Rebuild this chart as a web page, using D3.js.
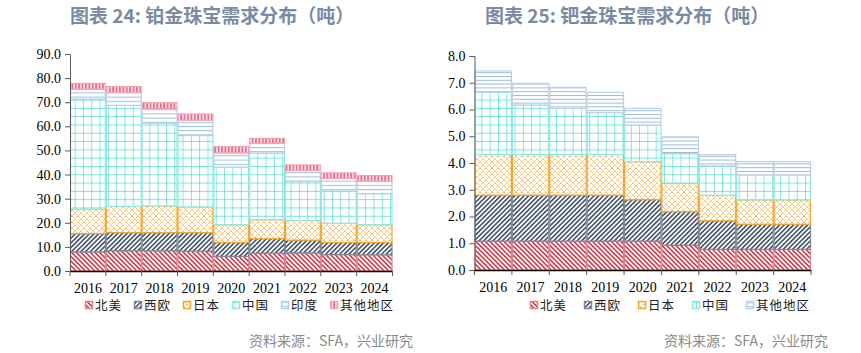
<!DOCTYPE html>
<html>
<head>
<meta charset="utf-8">
<script src="https://cdn.jsdelivr.net/npm/d3@7"></script>
<style>
  body { margin: 0; background: #fff; }
  .axisText { font-family: "Liberation Serif", "DejaVu Serif", serif; font-size: 14px; fill: #000; }
  .legendText { font-family: "Noto Sans CJK SC", sans-serif; font-size: 12.5px; fill: #222; letter-spacing: 1px; }
</style>
</head>
<body>
<svg id="chart" width="861" height="353"></svg>
<script>
// ---- data (tonnes) ----
const years = ['2016', '2017', '2018', '2019', '2020', '2021', '2022', '2023', '2024'];

// platinum jewellery demand
const ptRegions = ['北美', '西欧', '日本', '中国', '印度', '其他地区'];
const ptNorthAmerica = [7.9, 8.4, 8.4, 8.2, 6.1, 7.4, 7.5, 6.8, 6.7];
const ptWestEurope   = [7.6, 7.5, 7.5, 7.7, 5.7, 6.0, 5.3, 5.0, 5.1];
const ptJapan        = [10.2, 10.9, 11.1, 10.7, 7.4, 7.9, 8.2, 8.0, 7.4];
const ptChina        = [45.6, 41.9, 34.4, 29.6, 23.9, 27.6, 16.1, 13.9, 12.9];
const ptIndia        = [4.1, 5.4, 6.0, 6.4, 5.9, 4.1, 4.6, 4.7, 5.2];
const ptOther        = [2.4, 2.4, 2.4, 2.5, 2.6, 2.0, 2.3, 2.3, 2.3];
const ptTicks = [0, 10, 20, 30, 40, 50, 60, 70, 80, 90];

// palladium jewellery demand
const pdRegions = ['北美', '西欧', '日本', '中国', '其他地区'];
const pdNorthAmerica = [1.08, 1.08, 1.08, 1.08, 1.08, 0.92, 0.77, 0.77, 0.77];
const pdWestEurope   = [1.72, 1.72, 1.72, 1.72, 1.55, 1.26, 1.07, 0.94, 0.94];
const pdJapan        = [1.52, 1.52, 1.52, 1.52, 1.42, 1.07, 0.95, 0.91, 0.91];
const pdChina        = [2.33, 1.85, 1.72, 1.56, 1.37, 1.10, 1.10, 0.94, 0.94];
const pdOther        = [0.79, 0.81, 0.79, 0.76, 0.62, 0.63, 0.42, 0.49, 0.49];
const pdTicks = [0, 1, 2, 3, 4, 5, 6, 7, 8];

const svg = d3.select('#chart');
const defs = svg.append('defs');

// ---- hatch patterns ----
function stripePattern(id, color, angle, period, width) {
    const p = defs.append('pattern')
        .attr('id', id)
        .attr('patternUnits', 'userSpaceOnUse')
        .attr('width', period).attr('height', period)
        .attr('patternTransform', `rotate(${angle})`);
    p.append('rect').attr('width', period).attr('height', period).attr('fill', '#fff');
    p.append('rect').attr('width', width).attr('height', period).attr('fill', color);
}
stripePattern('pNA', '#d23b4c', -45, 3.3, 1.6);
stripePattern('pWE', '#44546a', 45, 3.3, 1.6);
stripePattern('pOther', '#f06a86', 0, 3.4, 2);
stripePattern('pIndia', '#9dbfe2', 90, 4.2, 1);
stripePattern('pOtherPd', '#9fbbdc', 90, 3.8, 1);

const jp = defs.append('pattern').attr('id', 'pJapan')
    .attr('patternUnits', 'userSpaceOnUse').attr('width', 6).attr('height', 6);
jp.append('rect').attr('width', 6).attr('height', 6).attr('fill', '#fff');
jp.append('path').attr('d', 'M0,0L6,6M6,0L0,6')
    .attr('stroke', '#f2a22a').attr('stroke-width', 0.9).attr('stroke-dasharray', '1.2,0.8');

const cn = defs.append('pattern').attr('id', 'pChina')
    .attr('patternUnits', 'userSpaceOnUse').attr('width', 8.3).attr('height', 8.3);
cn.append('rect').attr('width', 8.3).attr('height', 8.3).attr('fill', '#fff');
cn.append('path').attr('d', 'M0,0H8.3M0,0V8.3')
    .attr('stroke', '#45dccf').attr('stroke-width', 1.3);

const styles = {
    '北美':   {fill: 'url(#pNA)', stroke: '#e0808a'},
    '西欧':   {fill: 'url(#pWE)', stroke: '#7d8797'},
    '日本':   {fill: 'url(#pJapan)', stroke: '#f2a630'},
    '中国':   {fill: 'url(#pChina)', stroke: '#8fe9e0'},
    '印度':   {fill: 'url(#pIndia)', stroke: '#b5cfea'},
    '其他地区': {fill: 'url(#pOther)', stroke: '#f7a0b2'}
};
const pdStyles = Object.assign({}, styles, {'其他地区': {fill: 'url(#pOtherPd)', stroke: '#bcd0ea'}});

function drawChart(cfg) {
    const rows = years.map((yr, i) => {
        const r = {year: yr};
        cfg.keys.forEach((k, j) => r[k] = cfg.series[j][i]);
        return r;
    });

    const x = d3.scaleBand().domain(years).range([cfg.left, cfg.right]).padding(0);
    const y = d3.scaleLinear().domain([0, d3.max(cfg.ticks)]).range([cfg.bottom, cfg.top]);

    const stacked = d3.stack().keys(cfg.keys)(rows);

    const g = svg.append('g');

    // title
    g.append('text')
        .attr('x', cfg.titleX).attr('y', 23)
        .style('font-family', '"Noto Sans CJK SC", sans-serif')
        .style('font-size', '19px').style('font-weight', 'bold')
        .attr('fill', '#7b8aa3')
        .text(cfg.title);

    // stacked bars
    g.selectAll('.layer')
        .data(stacked)
        .join('g')
        .attr('class', 'layer')
        .each(function(layer) {
            const st = cfg.styles[layer.key];
            d3.select(this).selectAll('rect')
                .data(layer)
                .join('rect')
                .attr('x', d => x(d.data.year) + 0.5)
                .attr('width', x.bandwidth() - 1)
                .attr('y', d => y(d[1]))
                .attr('height', d => y(d[0]) - y(d[1]))
                .attr('fill', st.fill)
                .attr('stroke', st.stroke)
                .attr('stroke-width', 1.2);
        });

    // y axis
    const yAxis = g.append('g')
        .attr('transform', `translate(${cfg.left},0)`)
        .call(d3.axisLeft(y).tickValues(cfg.ticks).tickFormat(d3.format('.1f')).tickSize(5).tickPadding(4));
    yAxis.select('.domain').attr('stroke', '#595959');
    yAxis.selectAll('.tick line').attr('stroke', '#595959');
    yAxis.selectAll('text').attr('class', 'axisText');

    // x axis: labels at centres, ticks at category boundaries
    const xAxis = g.append('g')
        .attr('transform', `translate(0,${cfg.bottom})`)
        .call(d3.axisBottom(x).tickSize(0).tickPadding(12));
    xAxis.select('.domain').attr('stroke', '#000').attr('stroke-width', 1.3);
    xAxis.selectAll('text').attr('class', 'axisText');
    const bounds = years.map(d => x(d)).concat([x.range()[1]]);
    xAxis.selectAll('.bound')
        .data(bounds)
        .join('line')
        .attr('class', 'bound')
        .attr('x1', d => d).attr('x2', d => d)
        .attr('y1', 0).attr('y2', 5)
        .attr('stroke', '#595959');

    // legend
    const legend = g.append('g').attr('transform', `translate(${cfg.legendX},310)`);
    let lx = 0;
    cfg.keys.forEach(k => {
        const st = cfg.styles[k];
        legend.append('rect')
            .attr('x', lx + 0.5).attr('y', -8.5)
            .attr('width', 7).attr('height', 7)
            .attr('fill', st.fill).attr('stroke', st.stroke).attr('stroke-width', 1.5);
        const t = legend.append('text')
            .attr('class', 'legendText')
            .attr('x', lx + 10).attr('y', 0)
            .text(k);
        lx += 10 + t.node().getComputedTextLength() + cfg.legendGap;
    });

    // source
    g.append('text')
        .attr('x', cfg.sourceX).attr('y', 346)
        .attr('text-anchor', 'end')
        .style('font-family', '"Noto Sans CJK SC", sans-serif')
        .style('font-size', '14px')
        .attr('fill', '#8a8a8a')
        .text('资料来源：SFA，兴业研究');
}

drawChart({
    title: '图表 24: 铂金珠宝需求分布（吨）', titleX: 70,
    keys: ptRegions,
    series: [ptNorthAmerica, ptWestEurope, ptJapan, ptChina, ptIndia, ptOther],
    ticks: ptTicks, styles: styles,
    left: 70, right: 392.5, top: 54, bottom: 271,
    legendX: 85, legendGap: 12, sourceX: 413
});

drawChart({
    title: '图表 25: 钯金珠宝需求分布（吨）', titleX: 485,
    keys: pdRegions,
    series: [pdNorthAmerica, pdWestEurope, pdJapan, pdChina, pdOther],
    ticks: pdTicks, styles: pdStyles,
    left: 474.5, right: 811, top: 56, bottom: 270,
    legendX: 530, legendGap: 17, sourceX: 828
});
</script>
</body>
</html>
